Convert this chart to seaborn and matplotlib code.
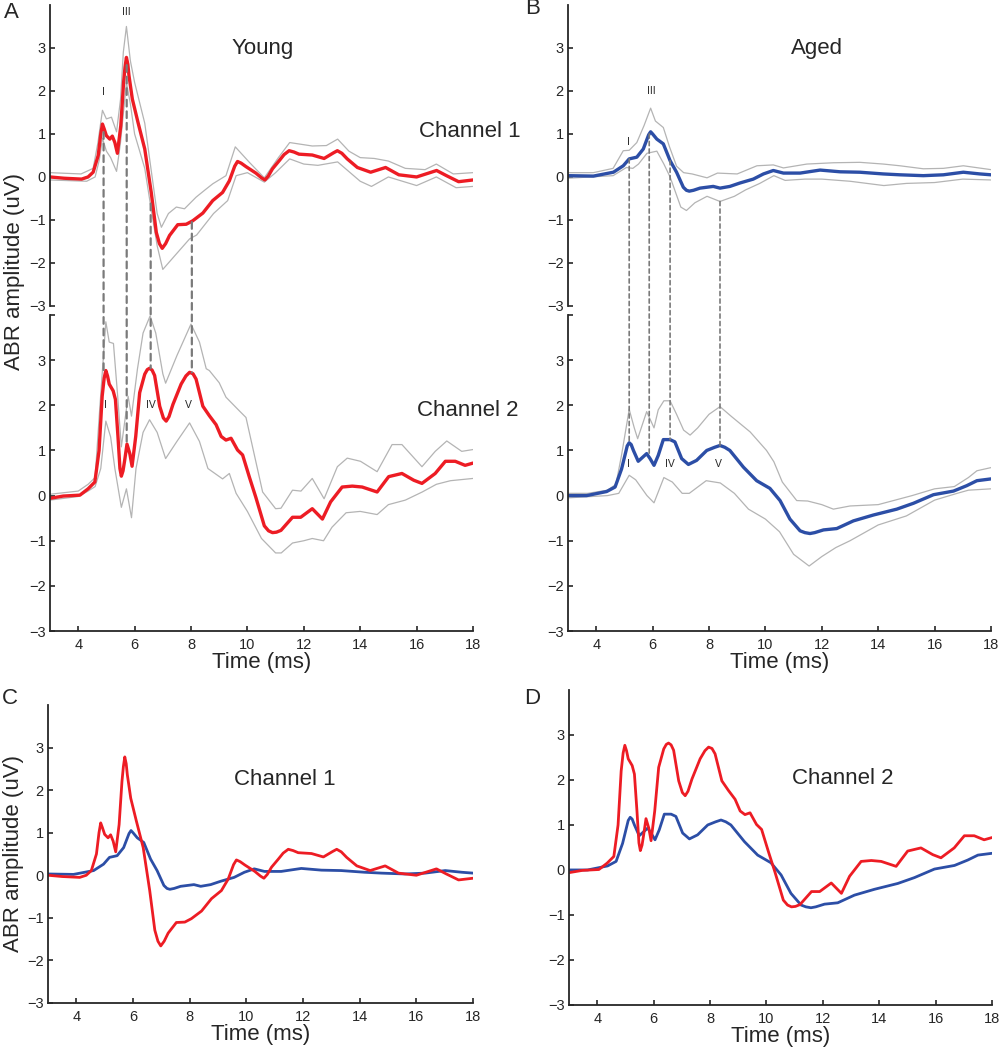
import matplotlib
matplotlib.use("Agg")
import matplotlib.pyplot as plt
import seaborn as sns
from matplotlib.patches import ConnectionPatch

# ---- data (time in ms, amplitude in uV) ----
young_ch1_t = [3.0, 3.5, 4.12, 4.35, 4.53, 4.71, 4.8, 4.86, 4.92, 5.0, 5.12, 5.21, 5.30, 5.39, 5.51, 5.61,
               5.66, 5.71, 5.76, 5.80, 5.92, 6.12, 6.36, 6.59, 6.77, 6.88, 6.98, 7.1, 7.24, 7.53, 7.83,
               8.06, 8.42, 8.77, 9.12, 9.36, 9.55, 9.65, 9.78, 9.95, 10.30, 10.5, 10.62, 10.74, 10.89,
               11.13, 11.3, 11.48, 11.65, 11.83, 12.3, 12.72, 13.05, 13.19, 13.35, 13.54,
               13.9, 14.37, 14.9, 15.37, 16.0, 16.71, 17.06, 17.49, 18.0]
young_ch1 = [0.0, -0.03, -0.05, 0.0, 0.11, 0.5, 1.0, 1.23, 1.12, 0.96, 0.88, 0.95, 0.8, 0.55, 1.19, 2.2,
             2.55, 2.78, 2.62, 2.36, 1.81, 1.27, 0.65, -0.36, -1.29, -1.55, -1.66, -1.55, -1.36, -1.11, -1.10,
             -1.02, -0.84, -0.55, -0.36, -0.09, 0.25, 0.36, 0.32, 0.24, 0.09, -0.02, -0.07, 0.02, 0.19,
             0.38, 0.52, 0.61, 0.58, 0.53, 0.51, 0.43, 0.56, 0.61, 0.55, 0.42,
             0.22, 0.11, 0.22, 0.05, 0.0, 0.15, 0.03, -0.11, -0.07]
young_ch1_hi_t = [3.0, 4.1, 4.53, 4.7, 4.86, 5.0, 5.18, 5.36, 5.5, 5.6, 5.71, 5.85, 6.0, 6.36, 6.6, 6.8,
                  6.95, 7.2, 7.48, 7.77, 8.18, 8.5, 8.77, 9.24, 9.57, 10.07, 10.6, 11.1, 11.5, 12.3,
                  12.8, 13.2, 13.6, 14.0, 14.5, 15.0, 15.6, 16.3, 16.7, 17.3, 18.0]
young_ch1_hi = [0.1, 0.07, 0.2, 0.8, 1.55, 1.35, 1.39, 1.05, 1.8, 2.9, 3.5, 2.7, 2.2, 1.25, 0.1, -0.85,
                -1.17, -0.85, -0.70, -0.74, -0.47, -0.3, -0.16, 0.03, 0.70, 0.34, -0.02, 0.45, 0.8, 0.72,
                0.73, 0.88, 0.6, 0.45, 0.43, 0.37, 0.2, 0.17, 0.3, 0.07, 0.1]
young_ch1_lo_t = [3.0, 4.3, 4.6, 4.75, 4.86, 5.0, 5.15, 5.36, 5.5, 5.62, 5.71, 5.85, 6.0, 6.36, 6.6, 6.8,
                  7.0, 7.4, 7.95, 8.2, 8.8, 9.3, 9.6, 10.0, 10.6, 11.0, 11.5, 12.0, 12.5, 13.2, 14.0,
                  14.4, 15.0, 15.6, 16.0, 16.7, 17.4, 18.0]
young_ch1_lo = [-0.07, -0.1, 0.0, 0.4, 0.9, 0.6, 0.45, 0.13, 0.8, 1.6, 2.2, 1.7, 1.0, 0.2, -0.8, -1.6,
                -2.15, -1.85, -1.44, -1.35, -0.85, -0.55, 0.03, 0.1, -0.12, 0.1, 0.42, 0.3, 0.27, 0.35, -0.1,
                -0.22, 0.0, -0.12, -0.2, 0.0, -0.25, -0.22]

young_ch2_t = [3.0, 3.47, 4.06, 4.35, 4.59, 4.74, 4.85, 4.92, 4.98, 5.04, 5.1, 5.24, 5.32, 5.41, 5.48,
               5.53, 5.59, 5.65, 5.73, 5.83, 5.91, 6.04, 6.18, 6.36, 6.45, 6.53, 6.62, 6.71, 6.89, 7.02,
               7.12, 7.22, 7.36, 7.65, 7.82, 7.95, 8.07, 8.18, 8.42, 8.65, 8.89, 9.07, 9.24, 9.42, 9.65,
               9.83, 10.07, 10.30, 10.6, 10.75, 10.89, 11.03, 11.19, 11.6, 11.89, 12.3,
               12.66, 12.95, 13.36, 13.72, 14.07, 14.6, 15.01, 15.48, 15.9, 16.19, 16.66, 17.02, 17.37,
               17.72, 18.0]
young_ch2 = [-0.06, -0.01, 0.01, 0.15, 0.3, 1.0, 2.2, 2.6, 2.77, 2.65, 2.47, 2.32, 2.13, 1.31, 0.6,
             0.43, 0.55, 0.79, 1.14, 0.93, 0.65, 1.31, 2.28, 2.69, 2.79, 2.82, 2.78, 2.66, 1.98, 1.72,
             1.65, 1.75, 2.02, 2.47, 2.65, 2.73, 2.7, 2.58, 1.98, 1.77, 1.57, 1.31, 1.23, 1.27, 1.01,
             0.9, 0.41, -0.04, -0.67, -0.78, -0.82, -0.81, -0.77, -0.48, -0.48, -0.29,
             -0.52, -0.14, 0.19, 0.21, 0.19, 0.08, 0.42, 0.49, 0.34, 0.27, 0.49, 0.76, 0.76,
             0.67, 0.72]
young_ch2_hi_t = [3.0, 4.0, 4.35, 4.6, 4.75, 4.98, 5.1, 5.25, 5.4, 5.53, 5.77, 5.89, 6.1, 6.3, 6.55, 6.75,
                  7.0, 7.1, 7.5, 8.0, 8.3, 8.54, 8.65, 9.0, 9.24, 9.71, 9.95, 10.54, 11.0, 11.19, 11.6,
                  11.9, 12.3, 12.72, 13.19, 13.54, 14.01, 14.6, 15.13, 15.48, 16.19, 16.66, 17.07, 17.6, 18.0]
young_ch2_hi = [0.03, 0.1, 0.25, 0.4, 1.8, 3.85, 3.4, 3.37, 2.2, 1.08, 2.2, 1.76, 2.8, 3.6, 3.98, 3.6,
                2.7, 2.49, 3.1, 3.8, 3.4, 2.81, 2.77, 2.5, 2.18, 1.88, 1.73, 0.08, -0.29, -0.28, 0.12,
                0.1, 0.38, -0.07, 0.64, 0.83, 0.76, 0.53, 1.13, 1.13, 0.64, 0.98, 1.21, 0.98, 1.02]
young_ch2_lo_t = [3.0, 4.0, 4.35, 4.6, 4.8, 4.98, 5.15, 5.3, 5.53, 5.71, 5.89, 6.05, 6.3, 6.53, 6.8, 7.1,
                  7.5, 7.95, 8.3, 8.6, 9.12, 9.36, 9.6, 10.0, 10.5, 11.0, 11.2, 11.6, 12.0, 12.3, 12.7,
                  13.0, 13.5, 14.0, 14.6, 15.0, 15.6, 16.2, 16.7, 17.2, 18.0]
young_ch2_lo = [-0.1, -0.02, 0.1, 0.2, 0.6, 1.65, 1.3, 0.6, -0.26, 0.15, -0.49, 0.6, 1.4, 1.68, 1.4, 0.82,
                1.2, 1.61, 1.2, 0.6, 0.37, 0.49, 0.05, -0.35, -0.95, -1.27, -1.27, -1.05, -1.0, -0.95, -1.0,
                -0.7, -0.38, -0.35, -0.42, -0.2, -0.1, 0.08, 0.25, 0.33, 0.38]

aged_ch1_t = [3.0, 3.9, 4.61, 4.96, 5.17, 5.44, 5.67, 5.86, 5.93, 6.0, 6.15, 6.38, 6.62, 6.85, 7.09,
              7.2, 7.3, 7.45, 7.68, 8.15, 8.39, 8.74, 9.1, 9.57, 9.93, 10.28, 10.64, 11.23, 11.94, 12.65,
              13.35, 14.18, 14.77, 15.6, 16.31, 17.02, 17.61, 18.0]
aged_ch1 = [0.03, 0.02, 0.11, 0.26, 0.42, 0.46, 0.65, 0.98, 1.05, 1.0, 0.88, 0.77, 0.38, 0.11, -0.24,
            -0.31, -0.33, -0.31, -0.26, -0.22, -0.26, -0.22, -0.14, -0.05, 0.07, 0.15, 0.09, 0.09, 0.16, 0.12,
            0.11, 0.07, 0.05, 0.03, 0.05, 0.11, 0.07, 0.05]
aged_ch1_hi_t = [3.0, 3.9, 4.6, 4.96, 5.17, 5.44, 5.7, 5.93, 6.1, 6.38, 6.6, 6.85, 7.1, 7.4, 7.93, 8.3,
                 9.0, 9.7, 10.28, 10.64, 11.47, 12.41, 13.35, 14.18, 14.77, 15.6, 16.31, 17.02, 18.0]
aged_ch1_hi = [0.1, 0.1, 0.2, 0.61, 0.62, 0.8, 1.2, 1.6, 1.3, 1.15, 0.7, 0.25, 0.1, 0.07, -0.02, 0.09,
               0.07, 0.26, 0.28, 0.21, 0.3, 0.33, 0.34, 0.3, 0.26, 0.19, 0.2, 0.26, 0.17]
aged_ch1_lo_t = [3.0, 4.6, 5.07, 5.3, 5.5, 5.8, 6.15, 6.4, 6.62, 7.0, 7.2, 7.5, 7.93, 8.39, 8.9, 9.3,
                 9.8, 10.3, 10.7, 11.4, 12.0, 13.0, 14.2, 15.0, 16.0, 17.0, 18.0]
aged_ch1_lo = [-0.03, 0.03, 0.22, 0.2, 0.3, 0.55, 0.6, 0.3, 0.0, -0.7, -0.78, -0.6, -0.45, -0.57, -0.45, -0.3,
               -0.15, 0.03, -0.08, -0.05, -0.05, -0.1, -0.2, -0.15, -0.13, -0.05, -0.07]

aged_ch2_t = [3.0, 3.66, 4.37, 4.67, 4.9, 5.1, 5.17, 5.24, 5.32, 5.49, 5.79, 5.91, 6.05, 6.2, 6.38, 6.62,
              6.79, 7.03, 7.27, 7.56, 7.92, 8.2, 8.39, 8.56, 8.74, 9.22, 9.69, 10.16, 10.52, 10.87, 11.23,
              11.4, 11.58, 11.75, 12.06, 12.53, 13.12, 13.83, 14.66, 15.25, 15.96, 16.67, 17.14, 17.5, 18.0]
aged_ch2 = [0.0, 0.0, 0.09, 0.19, 0.59, 1.1, 1.17, 1.13, 1.0, 0.76, 0.93, 0.82, 0.67, 0.89, 1.24, 1.24,
            1.19, 0.82, 0.69, 0.78, 1.0, 1.07, 1.11, 1.07, 1.0, 0.63, 0.33, 0.16, -0.11, -0.52, -0.78,
            -0.82, -0.84, -0.82, -0.76, -0.73, -0.56, -0.43, -0.3, -0.17, 0.02, 0.1, 0.22, 0.33, 0.37]
aged_ch2_hi_t = [3.0, 3.7, 4.4, 4.7, 4.9, 5.17, 5.35, 5.47, 5.79, 6.05, 6.2, 6.4, 6.62, 6.85, 7.1, 7.33,
                 7.6, 8.0, 8.39, 8.8, 9.46, 10.04, 10.3, 10.6, 11.11, 11.5, 12.0, 12.41, 13.0, 14.0,
                 14.6, 15.2, 16.0, 16.7, 17.2, 17.5, 18.0]
aged_ch2_hi = [0.05, 0.05, 0.12, 0.25, 0.9, 1.91, 1.5, 1.26, 1.86, 1.5, 1.9, 2.1, 2.1, 1.8, 1.45, 1.34,
               1.5, 1.8, 1.97, 1.75, 1.41, 1.0, 0.75, 0.3, -0.11, -0.12, -0.2, -0.3, -0.23, -0.2,
               -0.1, 0.0, 0.15, 0.2, 0.4, 0.55, 0.62]
aged_ch2_lo_t = [3.0, 4.4, 4.8, 5.17, 5.4, 5.8, 6.05, 6.4, 6.7, 7.05, 7.3, 7.9, 8.4, 8.9, 9.4, 10.0,
                 10.5, 11.0, 11.55, 12.0, 12.5, 13.0, 14.0, 15.0, 16.0, 16.8, 17.2, 18.0]
aged_ch2_lo = [-0.05, 0.0, 0.05, 0.45, 0.35, 0.0, -0.16, 0.4, 0.3, 0.05, 0.05, 0.33, 0.28, 0.05, -0.3, -0.52,
               -0.8, -1.3, -1.56, -1.35, -1.15, -1.0, -0.65, -0.45, -0.1, 0.05, 0.12, 0.15]

# wave markers: time, value on channel 1, value on channel 2
young_wave_t = [4.9, 5.72, 6.57, 8.03]
young_wave_ch1 = [1.04, 2.6, -0.62, -1.05]
young_wave_ch2 = [2.77, 1.14, 2.82, 2.73]
aged_wave_t = [5.17, 5.88, 6.62, 8.39]
aged_wave_ch1 = [0.42, 1.0, 0.38, -0.57]
aged_wave_ch2 = [1.17, 0.93, 1.24, 1.11]

RED = "#ed1c24"
BLUE = "#2c4ea6"
GREY = "#b4b4b4"

sns.set_style("ticks")
plt.rcParams["font.family"] = ["Liberation Sans", "DejaVu Sans"]
plt.rcParams["xtick.direction"] = "in"
plt.rcParams["ytick.direction"] = "in"
plt.rcParams["xtick.major.size"] = 3.5
plt.rcParams["ytick.major.size"] = 3.5
plt.rcParams["axes.linewidth"] = 1.3
plt.rcParams["xtick.major.width"] = 1.2
plt.rcParams["ytick.major.width"] = 1.2
plt.rcParams["lines.solid_joinstyle"] = "round"

fig = plt.figure(figsize=(10, 10.5), dpi=100)


def style_axis(ax, with_x, top_tick=False):
    ax.set_xlim(3, 18)
    ax.set_ylim(-3, 4)
    ax.spines["top"].set_visible(False)
    ax.spines["right"].set_visible(False)
    if top_tick:
        ax.set_yticks(range(-3, 5))
        ax.set_yticklabels([str(v).replace("-", "\u2212") for v in range(-3, 4)] + [""])
    else:
        ax.set_yticks(range(-3, 4))
    ax.tick_params(axis="y", labelsize=10.5, pad=3)
    ax.tick_params(axis="x", labelsize=10.5, pad=5)
    if with_x:
        ax.set_xticks(range(4, 19, 2))
        ax.set_xlabel("Time (ms)", fontsize=16, labelpad=0)
    else:
        ax.spines["bottom"].set_visible(False)
        ax.set_xticks([])
    ax.set_ylabel("")


def draw_band(ax, t, m, ht, h, lt, lo, color):
    sns.lineplot(x=ht, y=h, ax=ax, color=GREY, linewidth=0.9)
    sns.lineplot(x=lt, y=lo, ax=ax, color=GREY, linewidth=0.9)
    sns.lineplot(x=t, y=m, ax=ax, color=color, linewidth=2.4)


# ---- panel A (young) ----
axA1 = fig.add_axes([0.050, 0.7086, 0.423, 0.2867])
axA2 = fig.add_axes([0.050, 0.3990, 0.423, 0.3010])
draw_band(axA1, young_ch1_t, young_ch1, young_ch1_hi_t, young_ch1_hi, young_ch1_lo_t, young_ch1_lo, RED)
draw_band(axA2, young_ch2_t, young_ch2, young_ch2_hi_t, young_ch2_hi, young_ch2_lo_t, young_ch2_lo, RED)
style_axis(axA1, False)
style_axis(axA2, True, top_tick=True)

# ---- panel B (aged) ----
axB1 = fig.add_axes([0.568, 0.7086, 0.423, 0.2867])
axB2 = fig.add_axes([0.568, 0.3990, 0.423, 0.3010])
draw_band(axB1, aged_ch1_t, aged_ch1, aged_ch1_hi_t, aged_ch1_hi, aged_ch1_lo_t, aged_ch1_lo, BLUE)
draw_band(axB2, aged_ch2_t, aged_ch2, aged_ch2_hi_t, aged_ch2_hi, aged_ch2_lo_t, aged_ch2_lo, BLUE)
style_axis(axB1, False)
style_axis(axB2, True, top_tick=True)

# dashed connectors between channels
for t, y1, y2 in zip(young_wave_t, young_wave_ch1, young_wave_ch2):
    fig.add_artist(ConnectionPatch(xyA=(t, y1), coordsA=axA1.transData, xyB=(t, y2), coordsB=axA2.transData,
                                   color="#7a7a7a", linewidth=1.6, linestyle=(0, (3, 2.2))))
for t, y1, y2 in zip(aged_wave_t, aged_wave_ch1, aged_wave_ch2):
    fig.add_artist(ConnectionPatch(xyA=(t, y1), coordsA=axB1.transData, xyB=(t, y2), coordsB=axB2.transData,
                                   color="#7a7a7a", linewidth=1.2, linestyle=(0, (2.5, 2))))

# wave labels
lab = dict(fontsize=7.5, ha="center", va="center")
axA1.text(4.88, 1.98, "I", **lab)
axA1.text(5.71, 3.84, "III", **lab)
axA2.text(4.98, 2.0, "I", **lab)
axA2.text(6.57, 2.0, "IV", **lab)
axA2.text(7.91, 2.0, "V", **lab)
axB1.text(5.13, 0.81, "I", **lab)
axB1.text(5.94, 2.0, "III", **lab)
axB2.text(5.16, 0.7, "I", **lab)
axB2.text(6.62, 0.7, "IV", **lab)
axB2.text(8.35, 0.7, "V", **lab)

axA1.text(10.55, 2.98, "Young", fontsize=16, ha="center", va="center")
axB1.text(11.83, 2.98, "Aged", fontsize=16, ha="center", va="center")
axA1.text(17.88, 1.05, "Channel 1", fontsize=16, ha="center", va="center")
axA2.text(17.8, 1.89, "Channel 2", fontsize=16, ha="center", va="center")

# ---- panels C and D (overlay) ----
axC = fig.add_axes([0.048, 0.0448, 0.425, 0.2838])
sns.lineplot(x=aged_ch1_t, y=aged_ch1, ax=axC, color=BLUE, linewidth=2.0)
sns.lineplot(x=young_ch1_t, y=young_ch1, ax=axC, color=RED, linewidth=2.0)
style_axis(axC, True)
axC.set_ylabel("ABR amplitude (uV)", fontsize=16, labelpad=2)
axC.text(11.37, 2.25, "Channel 1", fontsize=16, ha="center", va="center")

axD = fig.add_axes([0.569, 0.0429, 0.423, 0.300])
sns.lineplot(x=aged_ch2_t, y=aged_ch2, ax=axD, color=BLUE, linewidth=2.0)
sns.lineplot(x=young_ch2_t, y=young_ch2, ax=axD, color=RED, linewidth=2.0)
style_axis(axD, True)
axD.text(12.72, 2.04, "Channel 2", fontsize=16, ha="center", va="center")

fig.text(0.015, 1 - 271 / 1050, "ABR amplitude (uV)", rotation=90, fontsize=16, ha="center", va="center")

for letter, x, y in [("A", 11, 12), ("B", 533, 9), ("C", 10, 698), ("D", 532, 699)]:
    fig.text(x / 1000, 1 - y / 1050, letter, fontsize=16, ha="center", va="center")

fig.savefig("out.png", dpi=100)
